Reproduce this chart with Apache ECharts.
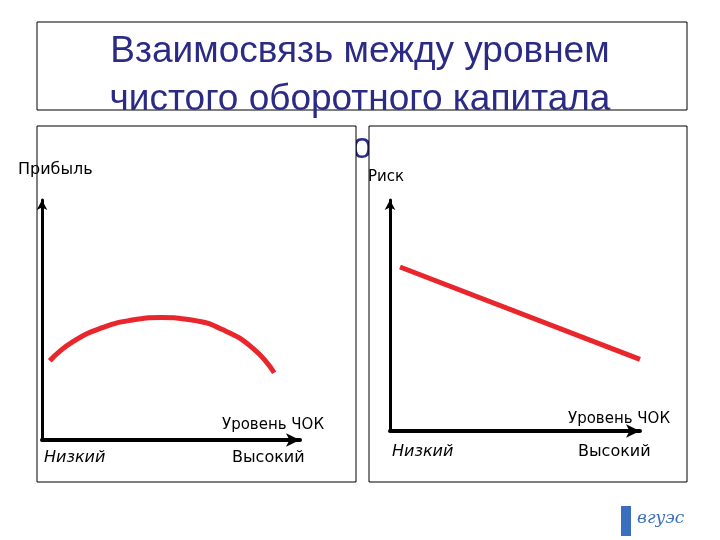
<!DOCTYPE html>
<html><head><meta charset="utf-8">
<script src="https://cdn.jsdelivr.net/npm/echarts@6/dist/echarts.min.js"></script>
<style>html,body{margin:0;background:#fff}#c{width:720px;height:540px}</style>
</head><body><div id="c"></div>
<script>
// profit curve (left), risk line (right), in axis units 0..10
var profitX = [0.3, 1.2, 2.4, 3.5, 4.6, 5.8, 7.0, 8.2, 9.0];
var profitY = [3.3, 4.1, 4.7, 5.0, 5.1, 5.0, 4.6, 3.8, 2.8];
var riskX = [0.4, 10];
var riskY = [7.1, 3.1];
var titleLines = ['Взаимосвязь между уровнем', 'чистого оборотного капитала'];

function zip(a, b) { return a.map(function (v, i) { return [v, b[i]]; }); }

var hand = '"DejaVu Sans", sans-serif';
function axisX(gi) {
    return { gridIndex: gi, type: 'value', min: 0, max: 10,
        axisLine: { show: true, lineStyle: { color: '#000', width: 4 }, symbol: ['none', 'arrow'], symbolSize: [10, 14] },
        axisTick: { show: false }, axisLabel: { show: false }, splitLine: { show: false } };
}
function axisY(gi) {
    return { gridIndex: gi, type: 'value', min: 0, max: 10,
        axisLine: { show: true, lineStyle: { color: '#000', width: 3 }, symbol: ['none', 'arrow'], symbolSize: [8, 10] },
        axisTick: { show: false }, axisLabel: { show: false }, splitLine: { show: false } };
}
function txt(x, y, s, size, extra) {
    var st = { x: x, y: y, text: s, fontSize: size || 16, fontFamily: hand, fill: '#000' };
    for (var k in extra) st[k] = extra[k];
    return { type: 'text', z: 5, style: st };
}

var chart = echarts.init(document.getElementById('c'));
chart.setOption({
    animation: false,
    grid: [
        { left: 42, right: 420, top: 200, bottom: 100 },
        { left: 390, right: 80, top: 200, bottom: 109 }
    ],
    xAxis: [axisX(0), axisX(1)],
    yAxis: [axisY(0), axisY(1)],
    series: [
        { type: 'line', xAxisIndex: 0, yAxisIndex: 0, data: zip(profitX, profitY), smooth: true,
          showSymbol: false, lineStyle: { color: '#e8262b', width: 5 } },
        { type: 'line', xAxisIndex: 1, yAxisIndex: 1, data: zip(riskX, riskY),
          showSymbol: false, lineStyle: { color: '#e8262b', width: 5 } }
    ],
    graphic: [
        { type: 'text', z: -3, style: { x: 360, y: 52, text: titleLines[0], align: 'center', verticalAlign: 'middle',
          fontSize: 37, fontFamily: '"Liberation Sans", Arial, sans-serif', fill: '#2b2b86' } },
        { type: 'text', z: -3, style: { x: 360, y: 100, text: titleLines[1], align: 'center', verticalAlign: 'middle',
          fontSize: 37, fontFamily: '"Liberation Sans", Arial, sans-serif', fill: '#2b2b86' } },
        { type: 'text', z: -3, style: { x: 362, y: 148, text: 'о', align: 'center', verticalAlign: 'middle',
          fontSize: 37, fontFamily: '"Liberation Sans", Arial, sans-serif', fill: '#2b2b86' } },
        { type: 'rect', z: -4, shape: { x: 37, y: 22, width: 650, height: 88 }, style: { fill: 'none', stroke: '#000', lineWidth: 1 } },
        { type: 'rect', z: -2, shape: { x: 37, y: 126, width: 319, height: 356 }, style: { fill: '#fff', stroke: '#000', lineWidth: 1 } },
        { type: 'rect', z: -2, shape: { x: 369, y: 126, width: 318, height: 356 }, style: { fill: '#fff', stroke: '#000', lineWidth: 1 } },
        txt(18, 162, 'Прибыль', 16),
        txt(368, 170, 'Риск', 15),
        txt(222, 418, 'Уровень ЧОК', 15),
        txt(44, 450, 'Низкий', 16, { fontStyle: 'italic' }),
        txt(232, 450, 'Высокий', 16),
        txt(568, 412, 'Уровень ЧОК', 15),
        txt(392, 444, 'Низкий', 16, { fontStyle: 'italic' }),
        txt(578, 444, 'Высокий', 16),
        { type: 'rect', z: 5, shape: { x: 621, y: 506, width: 10, height: 30 }, style: { fill: '#3a6fc0' } },
        txt(637, 510, 'вгуэс', 17, { fontStyle: 'italic', fill: '#3a6fc0', fontFamily: '"DejaVu Serif", serif' })
    ]
});
</script></body></html>
